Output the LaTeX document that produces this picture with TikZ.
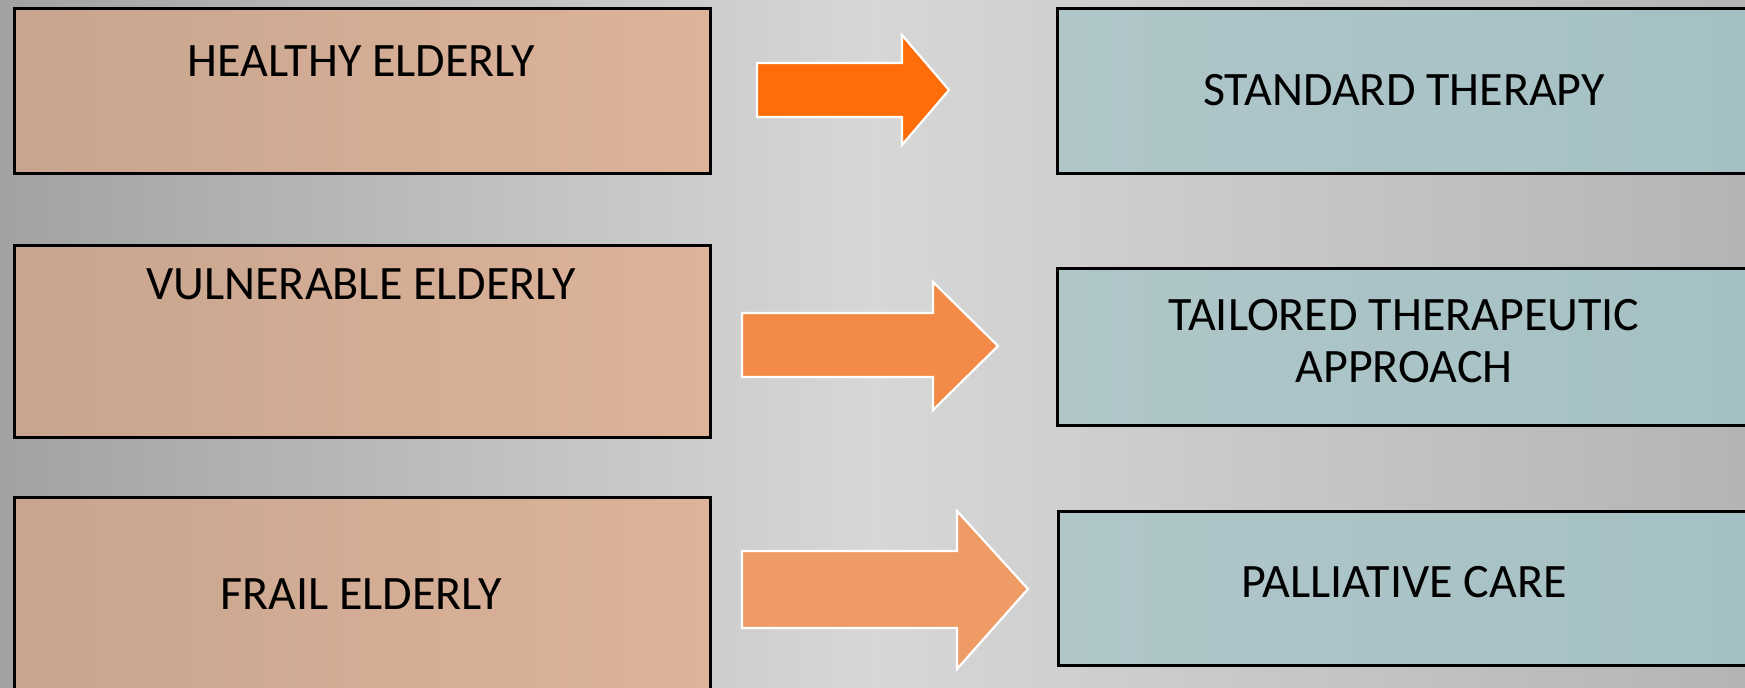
\documentclass[tikz,border=0pt]{standalone}
\usepackage{fontspec}
\setmainfont{Carlito}
\definecolor{bgL}{HTML}{A2A2A2}
\definecolor{bgM}{HTML}{D7D7D7}
\definecolor{bgR}{HTML}{B4B4B4}
\definecolor{orL}{HTML}{C8A58E}
\definecolor{orR}{HTML}{DDB39A}
\definecolor{blL}{HTML}{B0C6C9}
\definecolor{blR}{HTML}{A4C0C4}
\definecolor{arA}{HTML}{FF6D0A}
\definecolor{arB}{HTML}{F38A48}
\definecolor{arC}{HTML}{EF9B66}
\tikzset{
  agebox/.style={draw=black, line width=1.3pt, left color=orL, right color=orR, rectangle, inner sep=0pt},
  carebox/.style={draw=black, line width=1.3pt, left color=blL, right color=blR, rectangle, inner sep=0pt},
  lbl/.style={font=\fontsize{24}{26}\selectfont, text=black, align=center, inner sep=0pt},
  blockarrow/.style={draw=white, line width=1.1pt, line join=miter}
}
\begin{document}
\begin{tikzpicture}[x=0.5pt, y=-0.5pt]
\clip (0,0) rectangle (1745,687);
\shade[left color=bgL, right color=bgR, middle color=bgM] (0,0) rectangle (1745,687);
% left boxes
\node[agebox, minimum width=696*0.5pt, minimum height=165*0.5pt, anchor=north west] (healthy) at (13,7) {};
\node[agebox, minimum width=696*0.5pt, minimum height=192*0.5pt, anchor=north west] (vuln) at (13,244) {};
\node[agebox, minimum width=696*0.5pt, minimum height=220*0.5pt, anchor=north west] (frail) at (13,496) {};
% right boxes
\node[carebox, minimum width=720*0.5pt, minimum height=165*0.5pt, anchor=north west] (standard) at (1056,7) {};
\node[carebox, minimum width=720*0.5pt, minimum height=157*0.5pt, anchor=north west] (tailored) at (1056,267) {};
\node[carebox, minimum width=720*0.5pt, minimum height=154*0.5pt, anchor=north west] (palliative) at (1057,510) {};
% labels
\node[lbl] (t1) at (361,61) {HEALTHY ELDERLY};
\node[lbl] (t2) at (361,284) {VULNERABLE ELDERLY};
\node[lbl] (t3) at (361,594) {FRAIL ELDERLY};
\node[lbl] (t4) at (1404,90) {STANDARD THERAPY};
\node[lbl] (t5) at (1404,341) {TAILORED THERAPEUTIC\\APPROACH};
\node[lbl] (t6) at (1404,582) {PALLIATIVE CARE};
% block arrows
\filldraw[blockarrow, fill=arA] (757,63) -- (902,63) -- (902,35) -- (949,90) -- (902,145) -- (902,117) -- (757,117) -- cycle;
\filldraw[blockarrow, fill=arB] (742,313) -- (933,313) -- (933,282) -- (998,346) -- (933,410) -- (933,377) -- (742,377) -- cycle;
\filldraw[blockarrow, fill=arC] (742,551) -- (957,551) -- (957,511) -- (1028,589) -- (957,669) -- (957,628) -- (742,628) -- cycle;
\end{tikzpicture}
\end{document}
